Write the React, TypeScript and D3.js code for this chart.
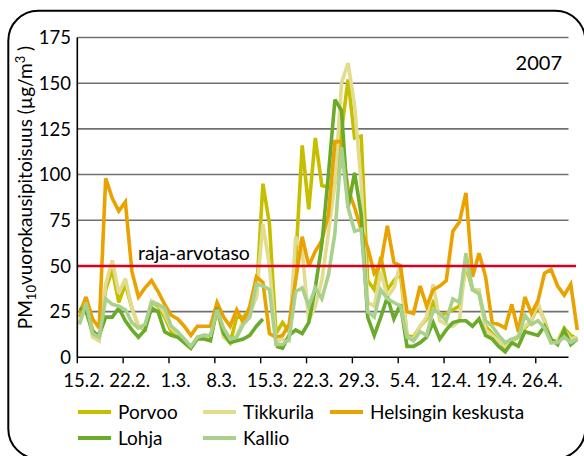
import React from "react";
import * as d3 from "d3";

const dateLabels = ["15.2.", "22.2.", "1.3.", "8.3.", "15.3.", "22.3.", "29.3.", "5.4.", "12.4.", "19.4.", "26.4."];
const yTicks = [0, 25, 50, 75, 100, 125, 150, 175];
const limitValue = 50;

const porvoo = [22, 29, 15, 10, 37, 48, 30, 40, 27, 17, 15, 30, 28, 22, 14, 12, 8, 5, 11, 12, 11, 26, 12, 8, 22, 22, 26, 33, 95, 73, 13, 19, 14, 52, 116, 81, 120, 94, 93, 95, 124, 152, 120, 121, 42, 37, 55, 37, 42, 46, 12, 11, 17, 21, 30, 23, 24, 26, 28, 50, 37, 35, 17, 13, 9, 5, 9, 11, 16, 20, 28, 20, 9, 9, 16, 12, 10];
const tikkurila = [19, 28, 11, 9, 40, 53, 35, 43, 27, 17, 16, 31, 29, 24, 16, 13, 9, 5, 11, 11, 12, 25, 11, 8, 12, 20, 24, 33, 73, 50, 8, 10, 9, 66, 58, 20, 28, 42, 68, 95, 150, 161, 138, 95, 30, 28, 47, 33, 38, 51, 11, 10, 17, 22, 40, 20, 18, 17, 20, 54, 37, 37, 15, 12, 9, 6, 9, 12, 17, 20, 30, 19, 8, 9, 15, 10, 11];
const helsinki = [24, 33, 21, 16, 98, 87, 80, 85, 47, 33, 38, 42, 36, 29, 23, 21, 17, 12, 17, 17, 17, 30, 22, 17, 26, 19, 28, 44, 41, 13, 11, 12, 18, 42, 66, 50, 58, 64, 78, 118, 118, 92, 82, 70, 60, 46, 51, 72, 52, 50, 25, 24, 39, 28, 37, 39, 42, 69, 74, 90, 44, 57, 44, 19, 18, 16, 29, 14, 33, 24, 31, 46, 48, 39, 34, 40, 15];
const lohja = [27, 25, 14, 12, 22, 22, 27, 20, 15, 11, 15, 27, 25, 14, 12, 11, 8, 5, 10, 10, 9, 27, 13, 8, 9, 10, 12, 17, 21, null, 6, 5, 12, 15, 13, 19, 38, 62, 100, 141, 135, 82, 101, 78, 22, 12, 22, 33, 21, 29, 6, 6, 8, 11, 19, 10, 15, 19, 20, 20, 17, 21, 12, 10, 6, 3, 8, 6, 14, 13, 12, 17, 10, 7, 15, 7, 10];
const kallio = [18, 30, 13, 11, 32, 29, 28, 26, 19, 16, 18, 30, 29, 27, 17, 14, 10, 6, 11, 12, 12, 26, 16, 10, 11, 18, 22, 40, 39, 37, 7, 7, 10, 36, 38, 28, 38, 32, 45, 68, 115, 82, 69, 70, 25, 22, 37, 32, 30, 28, 11, 9, 14, 12, 26, 24, 20, 32, 30, 57, 37, 35, 20, 17, 12, 8, 10, 11, 23, 18, 20, 16, 8, 8, 11, 8, 10];

const seriesNames = ["Porvoo", "Tikkurila", "Helsingin keskusta", "Lohja", "Kallio"];
const seriesData = [porvoo, tikkurila, helsinki, lohja, kallio];
const seriesColors = ["#c6bf00", "#e2dc8e", "#e9a200", "#6aab2a", "#a9d08c"];

const FONT = "Lato, 'Open Sans', sans-serif";

export default function App() {
  const W = 584, H = 456;
  const left = 77.3, right = 568.5, top = 37.5, bottom = 357.3;
  const nDays = porvoo.length;

  const xAxis = d3.scaleLinear().domain([0, 75]).range([left, right]);
  const xData = d3.scaleLinear().domain([0, nDays - 1]).range([79.5, 577.3]);
  const y = d3.scaleLinear().domain([0, 175]).range([bottom, top]);

  const line = d3
    .line<number | null>()
    .defined((v) => v !== null)
    .x((_, i) => xData(i))
    .y((v) => y(v as number));

  const legendPos = [
    { x: 78, y: 412 },
    { x: 203, y: 412 },
    { x: 330, y: 412 },
    { x: 78, y: 438 },
    { x: 203, y: 438 },
  ];

  return (
    <svg width={W} height={H} style={{ position: "absolute", left: 0, top: 0 }} fontFamily={FONT}>
      <rect x={0} y={0} width={W} height={H} fill="#fff" />
      <rect x={8.3} y={10.7} width={577} height={448} rx={30} ry={30} fill="none" stroke="#000" strokeWidth={2} />

      {yTicks.filter((t) => t !== 0 && t !== limitValue).map((t) => (
        <line key={"g" + t} x1={left} x2={right} y1={y(t)} y2={y(t)} stroke="#707070" strokeWidth={1.6} />
      ))}

      {yTicks.map((t) => (
        <text key={"yl" + t} x={71} y={y(t)} dy="0.36em" textAnchor="end" fontSize={18.5} fill="#000">
          {t}
        </text>
      ))}

      {seriesData.map((s, i) => (
        <path key={"s" + i} d={line(s) || ""} fill="none" stroke={seriesColors[i]} strokeWidth={3.6} strokeLinejoin="miter" strokeMiterlimit={3} />
      ))}

      <line x1={left} x2={576} y1={y(limitValue)} y2={y(limitValue)} stroke="#d8001a" strokeWidth={2.6} />
      <text x={138} y={260} fontSize={19.5} fill="#000">raja-arvotaso</text>

      <line x1={left} x2={left} y1={top} y2={bottom} stroke="#000" strokeWidth={1.6} />
      <line x1={left} x2={right} y1={bottom} y2={bottom} stroke="#000" strokeWidth={1.6} />

      {dateLabels.map((lab, i) => (
        <g key={"xt" + i}>
          <line x1={xAxis(i * 7)} x2={xAxis(i * 7)} y1={bottom} y2={bottom + 6} stroke="#000" strokeWidth={1.4} />
          <text x={xAxis(i * 7) + 6.5} y={387} textAnchor="middle" fontSize={18.5} fill="#000">
            {lab}
          </text>
        </g>
      ))}

      <text x={562} y={70} textAnchor="end" fontSize={20} fill="#000">2007</text>

      <text transform={`translate(32, ${(33 + 342) / 2}) rotate(-90)`} textAnchor="middle" fontSize={19} fill="#000">
        <tspan>PM</tspan>
        <tspan dy={4} fontSize={13}>10</tspan>
        <tspan dy={-4}>vuorokausipitoisuus (µg/m</tspan>
        <tspan dy={-7} fontSize={13}>3</tspan>
        <tspan dy={7}> )</tspan>
      </text>

      {seriesNames.map((name, i) => (
        <g key={"lg" + i}>
          <line x1={legendPos[i].x} x2={legendPos[i].x + 33} y1={legendPos[i].y} y2={legendPos[i].y} stroke={seriesColors[i]} strokeWidth={4} />
          <text x={legendPos[i].x + 40} y={legendPos[i].y} dy="0.36em" fontSize={19} fill="#000">
            {name}
          </text>
        </g>
      ))}
    </svg>
  );
}
